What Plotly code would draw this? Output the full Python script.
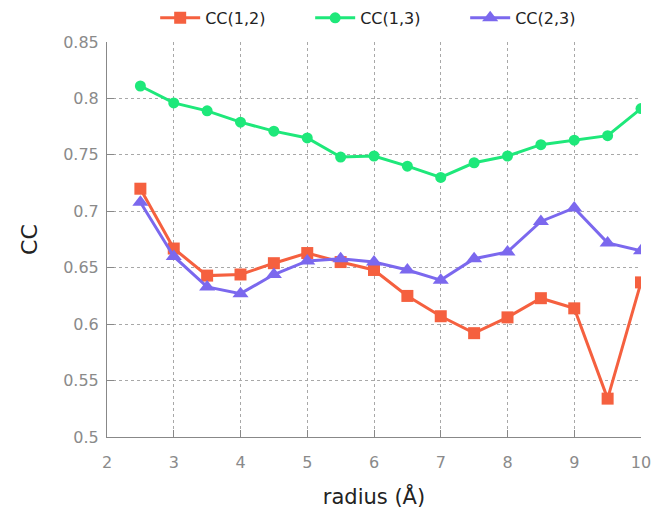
import plotly.graph_objects as go

radius = [2.5, 3, 3.5, 4, 4.5, 5, 5.5, 6, 6.5, 7, 7.5, 8, 8.5, 9, 9.5, 10]
cc12 = [0.720, 0.667, 0.643, 0.644, 0.654, 0.663, 0.655, 0.648, 0.625, 0.607, 0.592, 0.606, 0.623, 0.614, 0.534, 0.637]
cc13 = [0.811, 0.796, 0.789, 0.779, 0.771, 0.765, 0.748, 0.749, 0.740, 0.730, 0.743, 0.749, 0.759, 0.763, 0.767, 0.791]
cc23 = [0.708, 0.660, 0.633, 0.627, 0.644, 0.656, 0.658, 0.655, 0.648, 0.639, 0.658, 0.664, 0.691, 0.703, 0.672, 0.665]

x_ticks = [2, 3, 4, 5, 6, 7, 8, 9, 10]
y_ticks = [0.5, 0.55, 0.6, 0.65, 0.7, 0.75, 0.8, 0.85]

fig = go.Figure()
fig.add_trace(go.Scatter(x=radius, y=cc12, name="CC(1,2)", mode="lines+markers",
                         line=dict(color="#F5603F", width=3),
                         marker=dict(symbol="square", size=12, color="#F5603F")))
fig.add_trace(go.Scatter(x=radius, y=cc13, name="CC(1,3)", mode="lines+markers",
                         line=dict(color="#1EE87A", width=3),
                         marker=dict(symbol="circle", size=11, color="#1EE87A")))
fig.add_trace(go.Scatter(x=radius, y=cc23, name="CC(2,3)", mode="lines+markers",
                         line=dict(color="#7B68EE", width=3),
                         marker=dict(symbol="triangle-up", size=14, color="#7B68EE")))

grid = dict(showgrid=True, gridcolor="#a8a8a8", griddash="dot", gridwidth=1)
fig.update_xaxes(range=[2, 10], tickvals=x_ticks, ticktext=[str(v) for v in x_ticks],
                 ticks="inside", ticklen=7, tickcolor="#888", showline=True, linecolor="#888",
                 mirror=False, zeroline=False, automargin=False, ticklabelstandoff=11,
                 tickfont=dict(family="DejaVu Sans", size=16, color="#8a8a8a"),
                 title=dict(text="radius (Å)", font=dict(family="DejaVu Sans", size=21, color="#222"), standoff=18),
                 **grid)
fig.update_yaxes(range=[0.5, 0.85], tickvals=y_ticks, ticktext=[str(v) for v in y_ticks],
                 ticks="inside", ticklen=7, tickcolor="#888", showline=True, linecolor="#888",
                 mirror=False, zeroline=False, automargin=False, ticklabelstandoff=4,
                 tickfont=dict(family="DejaVu Sans", size=16, color="#8a8a8a"),
                 title=dict(text="CC", font=dict(family="DejaVu Sans", size=22, color="#222"), standoff=19),
                 **grid)

fig.update_layout(
    width=652, height=511,
    margin=dict(l=107, r=11, t=42, b=74),
    paper_bgcolor="white", plot_bgcolor="white",
    legend=dict(orientation="h", xref="container", yref="container",
                x=0.238, xanchor="left", y=0.965, yanchor="middle",
                font=dict(family="DejaVu Sans", size=16, color="#222"),
                entrywidth=100, entrywidthmode="pixels", itemwidth=40,
                bgcolor="rgba(0,0,0,0)"),
    showlegend=True,
)

fig.write_html("out.html", config={"displayModeBar": False},
               post_script="document.body.style.margin='0';document.body.style.overflow='hidden';")
